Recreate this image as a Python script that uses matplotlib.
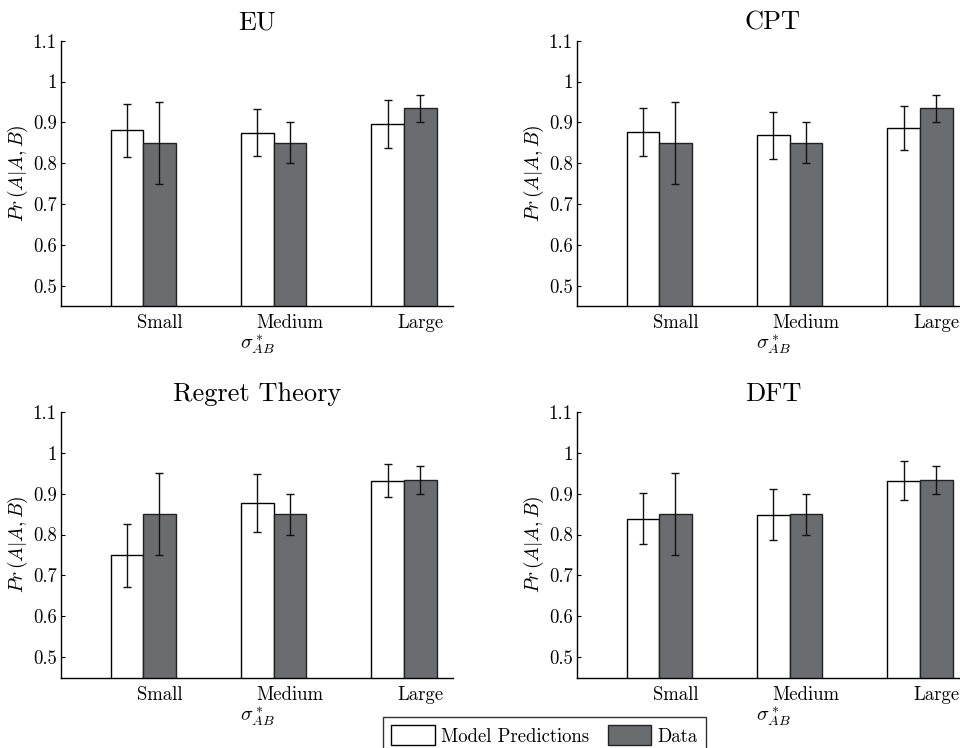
import numpy as np
import matplotlib
matplotlib.use("Agg")
import matplotlib.pyplot as plt
from matplotlib.patches import Patch

plt.rcParams['font.family'] = 'serif'
plt.rcParams['font.serif'] = ['cmr10', 'DejaVu Serif']
plt.rcParams['mathtext.fontset'] = 'cm'
plt.rcParams['axes.unicode_minus'] = False

categories = ['Small', 'Medium', 'Large']
titles = ['EU', 'CPT', 'Regret Theory', 'DFT']

# model predictions (mean, half-width of error bar) per panel
model_mean = [
    [0.880, 0.875, 0.896],
    [0.877, 0.868, 0.886],
    [0.749, 0.877, 0.932],
    [0.839, 0.849, 0.932],
]
model_err = [
    [0.064, 0.057, 0.058],
    [0.059, 0.057, 0.055],
    [0.078, 0.071, 0.041],
    [0.062, 0.063, 0.047],
]
# observed data (same in every panel)
data_mean = [0.850, 0.850, 0.934]
data_err = [0.100, 0.050, 0.034]

yticks = [0.5, 0.6, 0.7, 0.8, 0.9, 1.0, 1.1]
ytick_labels = ['0.5', '0.6', '0.7', '0.8', '0.9', '1', '1.1']

dark = '#6b6c70'

fig = plt.figure(figsize=(9.6, 7.48), dpi=100)
W, H = 960.0, 748.0
# axes boxes in pixels: left, top, right, bottom
boxes = [
    (61, 40.7, 453, 306),
    (577, 40.7, 969, 306),
    (61, 412, 453, 677.5),
    (577, 412, 969, 677.5),
]

x = np.arange(1, len(categories) + 1)
bw = 0.25

for i, (l, t, r, b) in enumerate(boxes):
    ax = fig.add_axes([l / W, 1 - b / H, (r - l) / W, (b - t) / H])
    ax.bar(x - bw / 2, model_mean[i], width=bw, color='white',
           edgecolor='black', linewidth=1.0, zorder=2)
    ax.bar(x + bw / 2, data_mean, width=bw, color=dark,
           edgecolor='#222222', linewidth=1.0, zorder=2)
    ax.errorbar(x - bw / 2, model_mean[i], yerr=model_err[i], fmt='none',
                ecolor='#111111', elinewidth=1.0, capsize=3, capthick=1.0, zorder=3)
    ax.errorbar(x + bw / 2, data_mean, yerr=data_err, fmt='none',
                ecolor='#111111', elinewidth=1.0, capsize=3, capthick=1.0, zorder=3)

    ax.set_xlim(0.37, 3.375)
    ax.set_ylim(0.45, 1.1)
    ax.set_yticks(yticks)
    ax.set_yticklabels(ytick_labels)
    ax.set_xticks(x + bw / 2)
    ax.set_xticklabels(categories)
    ax.tick_params(axis='y', direction='in', length=3, width=0.8,
                   labelsize=13.5, pad=3)
    ax.tick_params(axis='x', length=0, labelsize=13.5, pad=6)
    for s in ['top', 'right']:
        ax.spines[s].set_visible(False)
    for s in ['left', 'bottom']:
        ax.spines[s].set_linewidth(1.0)

    ax.set_title(titles[i], fontsize=19, pad=8)
    ax.set_ylabel(r'$Pr\,(A|A,B)$', fontsize=14, labelpad=2)
    ax.set_xlabel(r'$\sigma^*_{AB}$', fontsize=14.5, labelpad=0)

handles = [Patch(facecolor='white', edgecolor='black', linewidth=1.0),
           Patch(facecolor=dark, edgecolor='#222222', linewidth=1.0)]
leg = fig.legend(handles, ['Model Predictions', 'Data'], ncol=2,
                 loc='upper left', bbox_to_anchor=(383 / W, 1 - 717 / H),
                 fontsize=13.5, frameon=True, fancybox=False, edgecolor='black',
                 handlelength=2.3, handleheight=1.25, handletextpad=0.35,
                 columnspacing=1.0, borderpad=0.45, borderaxespad=0)
leg.get_frame().set_linewidth(1.0)

fig.savefig('out.png', dpi=100)
